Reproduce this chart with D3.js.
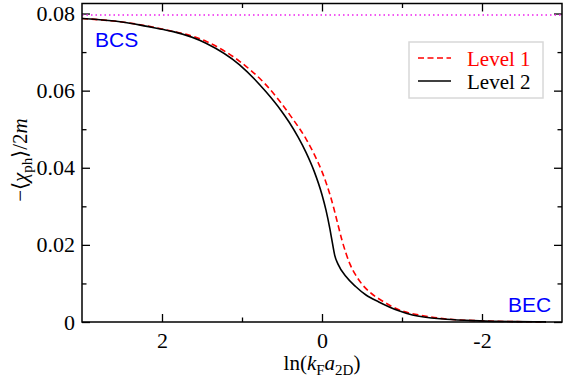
<!DOCTYPE html>
<html>
<head>
<meta charset="utf-8">
<script src="https://cdn.jsdelivr.net/npm/d3@7"></script>
<style>
  body { margin: 0; background: #fff; }
  .domain { display: none; }
  .tick line { stroke: #000; stroke-width: 1.3; }
</style>
</head>
<body>
<svg width="565" height="377"></svg>
<script>
// ln(kF a2D) grid and the two levels of -<chi_ph>/2m
const lnLevel2 = [3, 2.5, 2.27, 2, 1.86, 1.45, 1.03, 0.7, 0.51, 0.41, 0.3, 0.2, 0.1, 0, -0.05, -0.1, -0.13, -0.16, -0.2, -0.3, -0.42, -0.55, -0.71, -0.96, -1.13, -1.55, -1.97, -2.4, -2.8];
const level2 = [0.0787, 0.0778, 0.0770, 0.0759, 0.0753, 0.0723, 0.0667, 0.0597, 0.0548, 0.0518, 0.0480, 0.0440, 0.0392, 0.0330, 0.0290, 0.0240, 0.0205, 0.0172, 0.0150, 0.0118, 0.0092, 0.0070, 0.0052, 0.0029, 0.0018, 0.0007, 0.0003, 0.0001, 0.00003];
const lnLevel1 = [3, 2.5, 2, 1.45, 1.03, 0.7, 0.37, 0.2, 0.1, 0, -0.05, -0.1, -0.15, -0.2, -0.25, -0.3, -0.35, -0.42, -0.5, -0.6, -0.75, -0.96, -1.3, -1.6, -2, -2.4, -2.8];
const level1 = [0.0787, 0.0778, 0.0760, 0.0728, 0.0676, 0.0615, 0.0528, 0.0475, 0.0436, 0.0390, 0.0362, 0.0330, 0.0293, 0.0252, 0.0212, 0.0178, 0.0150, 0.0122, 0.0098, 0.0077, 0.0055, 0.0032, 0.0015, 0.0007, 0.0003, 0.0001, 0.00003];
const bcsLimit = 0.0796;
const xMajor = [2, 0, -2];
const xMinor = [1, -1];
const yMajor = [0, 0.02, 0.04, 0.06, 0.08];
const yMinor = [0.01, 0.03, 0.05, 0.07];

const svg = d3.select("svg");
const serif = "Liberation Serif, Times New Roman, serif";
const plotL = 82, plotR = 562, plotT = 3.5, plotB = 322;

const x = d3.scaleLinear().domain([3, -3]).range([plotL, plotR]);
const y = d3.scaleLinear().domain([0, 0.0826]).range([plotB, plotT]);

// axes, ticks inward on all four sides
svg.append("g").attr("transform", `translate(0,${plotB})`)
  .call(d3.axisBottom(x).tickValues(xMajor).tickSize(-8).tickPadding(10).tickFormat(d => String(d)))
  .attr("font-family", serif).attr("font-size", 22);
svg.append("g").attr("transform", `translate(0,${plotB})`)
  .call(d3.axisBottom(x).tickValues(xMinor).tickSize(-4.5).tickFormat(""));
svg.append("g").attr("transform", `translate(0,${plotT})`)
  .call(d3.axisTop(x).tickValues(xMajor).tickSize(-8).tickFormat(""));
svg.append("g").attr("transform", `translate(0,${plotT})`)
  .call(d3.axisTop(x).tickValues(xMinor).tickSize(-4.5).tickFormat(""));
svg.append("g").attr("transform", `translate(${plotL},0)`)
  .call(d3.axisLeft(y).tickValues(yMajor).tickSize(-8).tickPadding(7).tickFormat(d => d === 0 ? "0" : d3.format(".2f")(d)))
  .attr("font-family", serif).attr("font-size", 22);
svg.append("g").attr("transform", `translate(${plotL},0)`)
  .call(d3.axisLeft(y).tickValues(yMinor).tickSize(-4.5).tickFormat(""));
svg.append("g").attr("transform", `translate(${plotR},0)`)
  .call(d3.axisRight(y).tickValues(yMajor).tickSize(-8).tickFormat(""));
svg.append("g").attr("transform", `translate(${plotR},0)`)
  .call(d3.axisRight(y).tickValues(yMinor).tickSize(-4.5).tickFormat(""));

svg.selectAll(".tick text").style("fill", "#000");

// BCS limit
svg.append("line")
  .attr("x1", x(3)).attr("x2", x(-3))
  .attr("y1", y(bcsLimit)).attr("y2", y(bcsLimit))
  .style("stroke", "#ee22ee").style("stroke-width", 1.5).style("stroke-dasharray", "1.5,3");

const line = d3.line().x(d => x(d[0])).y(d => y(d[1])).curve(d3.curveMonotoneX);

svg.append("path")
  .datum(d3.zip(lnLevel1, level1))
  .attr("d", line)
  .style("fill", "none").style("stroke", "#ff0000").style("stroke-width", 1.6).style("stroke-dasharray", "6,3.5");

svg.append("path")
  .datum(d3.zip(lnLevel2, level2))
  .attr("d", line)
  .style("fill", "none").style("stroke", "#000").style("stroke-width", 1.6);

// frame
svg.append("rect")
  .attr("x", plotL).attr("y", plotT).attr("width", plotR - plotL).attr("height", plotB - plotT)
  .style("fill", "none").style("stroke", "#000").style("stroke-width", 1.5);

// regime labels
svg.append("text").attr("x", 95).attr("y", 47).text("BCS")
  .style("font-family", "Liberation Sans, Arial, sans-serif").style("font-size", "21px").style("fill", "#0000ff");
svg.append("text").attr("x", 508).attr("y", 311.5).text("BEC")
  .style("font-family", "Liberation Sans, Arial, sans-serif").style("font-size", "21px").style("fill", "#0000ff");

// legend
svg.append("rect").attr("x", 409).attr("y", 42).attr("width", 134).attr("height", 56)
  .style("fill", "#fff").style("stroke", "#d8d8d8").style("stroke-width", 1.5);
svg.append("line").attr("x1", 418).attr("x2", 451).attr("y1", 58).attr("y2", 58)
  .style("stroke", "#ff0000").style("stroke-width", 1.6).style("stroke-dasharray", "6,3.5");
svg.append("line").attr("x1", 418).attr("x2", 451).attr("y1", 81).attr("y2", 81)
  .style("stroke", "#000").style("stroke-width", 1.6);
svg.append("text").attr("x", 467).attr("y", 65.5).text("Level 1")
  .style("font-family", serif).style("font-size", "21px").style("fill", "#ff0000");
svg.append("text").attr("x", 467).attr("y", 89).text("Level 2")
  .style("font-family", serif).style("font-size", "21px").style("fill", "#000");

// x label
const xl = svg.append("text").attr("x", 322).attr("y", 370).attr("text-anchor", "middle")
  .style("font-family", serif).style("font-size", "21px");
xl.append("tspan").text("ln(");
xl.append("tspan").style("font-style", "italic").text("k");
xl.append("tspan").attr("dy", 5).style("font-size", "15px").text("F");
xl.append("tspan").attr("dy", -5).style("font-style", "italic").text("a");
xl.append("tspan").attr("dy", 5).style("font-size", "15px").text("2D");
xl.append("tspan").attr("dy", -5).text(")");

// y label
const yl = svg.append("text").attr("transform", "translate(27,160) rotate(-90)").attr("text-anchor", "middle")
  .style("font-family", serif).style("font-size", "21px");
yl.append("tspan").text("\u2212\u27e8");
yl.append("tspan").style("font-style", "italic").text("\u03c7");
yl.append("tspan").attr("dy", 5).style("font-size", "15px").text("ph");
yl.append("tspan").attr("dy", -5).text("\u27e9/2");
yl.append("tspan").style("font-style", "italic").text("m");
</script>
</body>
</html>
